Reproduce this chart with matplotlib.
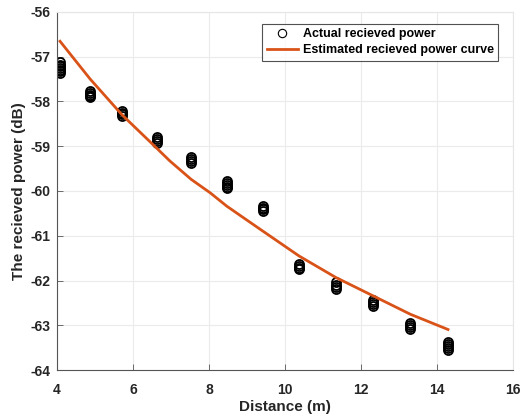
import numpy as np
import matplotlib
matplotlib.use("Agg")
import matplotlib.pyplot as plt

plt.rcParams['font.family'] = ['Liberation Sans', 'DejaVu Sans']
plt.rcParams['font.weight'] = 'bold'
plt.rcParams['axes.unicode_minus'] = False

# Measurement distances (m)
distance = [4.08, 4.87, 5.71, 6.63, 7.53, 8.47, 9.42, 10.37, 11.34, 12.32, 13.30, 14.29]

# Measured received power samples at each distance (dB)
measured = [
    [-57.13, -57.18, -57.22, -57.26, -57.30, -57.33, -57.36],
    [-57.77, -57.81, -57.85, -57.88, -57.90],
    [-58.22, -58.26, -58.29, -58.32],
    [-58.80, -58.84, -58.88, -58.92],
    [-59.25, -59.29, -59.33, -59.37],
    [-59.78, -59.82, -59.86, -59.90, -59.93],
    [-60.33, -60.37, -60.41, -60.45],
    [-61.63, -61.67, -61.71, -61.75],
    [-62.04, -62.09, -62.14, -62.19],
    [-62.44, -62.48, -62.52, -62.56],
    [-62.94, -62.99, -63.04, -63.09],
    [-63.36, -63.41, -63.46, -63.51, -63.54],
]

# Estimated received power curve (dB)
curve_x = [4.08, 4.87, 5.71, 6.63, 6.97, 7.53, 8.03, 8.47, 9.34, 10.13,
           10.37, 11.34, 12.32, 13.30, 14.29]
curve_y = [-56.66, -57.50, -58.30, -59.05, -59.33, -59.74, -60.04, -60.34,
           -60.85, -61.31, -61.45, -61.93, -62.34, -62.75, -63.09]

fig = plt.figure(figsize=(5.21, 4.16), dpi=100)
ax = fig.add_axes([0.1094, 0.1099, 0.8752, 0.8620])

xs = np.concatenate([[d] * len(m) for d, m in zip(distance, measured)])
ys = np.concatenate(measured)
ax.plot(xs, ys, 'o', mfc='none', mec='black', ms=6.5, mew=1.3,
        linestyle='none', label='Actual recieved power')
ax.plot(curve_x, curve_y, '-', color='#D95319', lw=2,
        label='Estimated recieved power curve')

ax.set_xlim(4, 16)
ax.set_ylim(-64, -56)
ax.set_xticks(np.arange(4, 17, 2))
ax.set_yticks(np.arange(-64, -55, 1))
ax.grid(True, color='#ebebeb', lw=0.8)
ax.set_axisbelow(True)

for s in ['top', 'right']:
    ax.spines[s].set_color('#e6e6e6')
for s in ['left', 'bottom']:
    ax.spines[s].set_color('#555555')
    ax.spines[s].set_linewidth(0.8)

ax.tick_params(direction='in', length=4, width=0.6, color='#555555',
               labelcolor='#262626', labelsize=10, top=False, right=False)
ax.tick_params(axis='x', pad=9)
ax.tick_params(axis='y', pad=5)
for lab in ax.get_xticklabels() + ax.get_yticklabels():
    lab.set_fontweight('bold')

ax.set_xlabel('Distance (m)', fontsize=11, fontweight='bold', color='#262626', labelpad=2)
ax.set_ylabel('The recieved power (dB)', fontsize=11, fontweight='bold', color='#262626', labelpad=3)

leg = ax.legend(loc='upper right', bbox_to_anchor=(0.968, 0.967), fontsize=9,
                frameon=True, fancybox=False, edgecolor='#262626',
                borderpad=0.35, handlelength=2.5, handletextpad=0.4, labelspacing=0.35,
                borderaxespad=0)
leg.get_frame().set_linewidth(0.8)
leg.legend_handles[0].set_markeredgewidth(0.8)
leg.legend_handles[0].set_markersize(6)
for t in leg.get_texts():
    t.set_fontweight('bold')

fig.savefig('out.png', dpi=100)
